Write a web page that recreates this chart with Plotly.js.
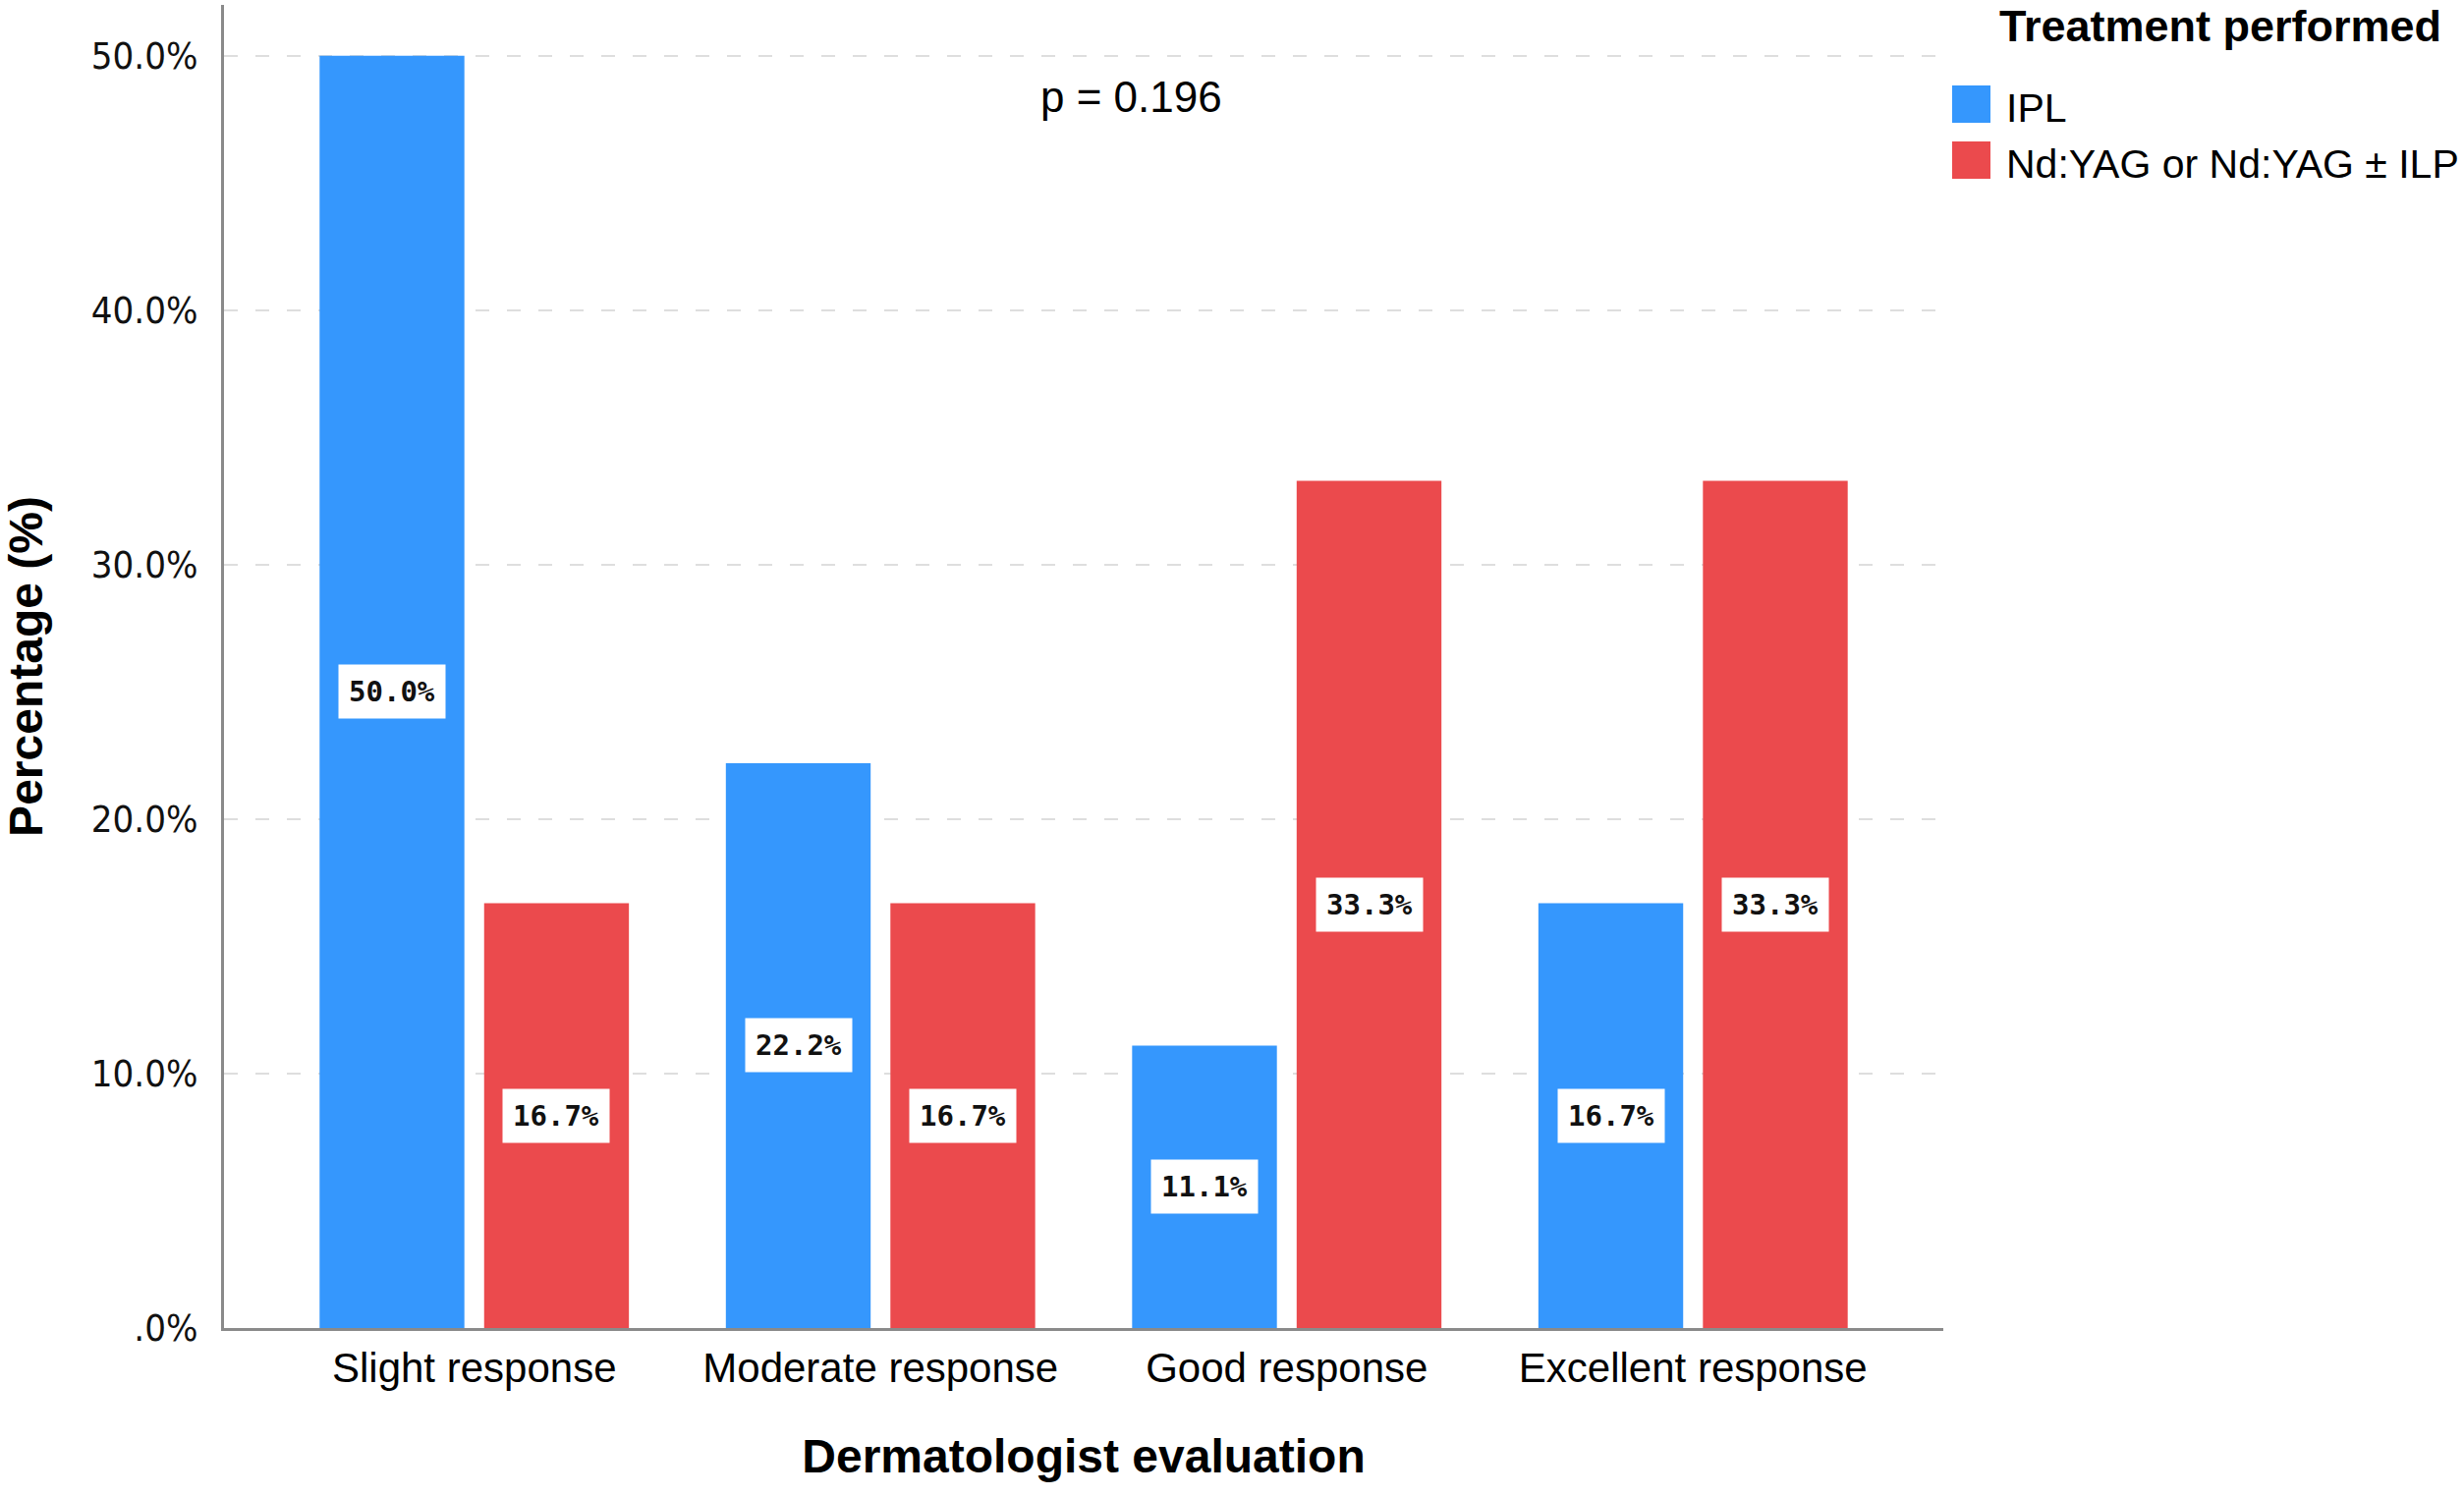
<!DOCTYPE html>
<html>
<head>
<meta charset="utf-8">
<script src="https://cdn.plot.ly/plotly-3.0.1.min.js"></script>
<style>
  body { margin: 0; background: #fff; }
  #chart { width: 2508px; height: 1523px; }
</style>
</head>
<body>
<div id="chart"></div>
<script>
  var categories = ["Slight response", "Moderate response", "Good response", "Excellent response"];
  var seriesNames = ["IPL", "Nd:YAG or Nd:YAG \u00b1 ILP"];
  var iplValues = [50.0, 22.2, 11.1, 16.7];
  var ndyagValues = [16.7, 16.7, 33.3, 33.3];
  var yTickVals = [0, 10, 20, 30, 40, 50];
  var yTickText = [".0%", "10.0%", "20.0%", "30.0%", "40.0%", "50.0%"];
  var colors = ["#3597fd", "#eb4a4d"];

  var W = 2508, H = 1523;
  var margin = { l: 228, r: 530, t: 5, b: 171 };
  var bargap = 0.19;

  // pixel -> paper helpers for legend and notes
  function px(x) { return (x - margin.l) / (W - margin.l - margin.r); }
  function py(y) { return (H - margin.b - y) / (H - margin.t - margin.b); }

  var data = [
    {
      type: "bar",
      name: seriesNames[0],
      x: categories,
      y: iplValues,
      marker: { color: colors[0] },
      hoverinfo: "x+y+name"
    },
    {
      type: "bar",
      name: seriesNames[1],
      x: categories,
      y: ndyagValues,
      marker: { color: colors[1] },
      hoverinfo: "x+y+name"
    }
  ];

  var annotations = [];
  var off = (1 - bargap) / 4;
  [iplValues, ndyagValues].forEach(function (vals, s) {
    vals.forEach(function (v, i) {
      annotations.push({
        x: i + (s === 0 ? -off : off),
        y: v / 2,
        xref: "x", yref: "y",
        text: v.toFixed(1) + "%",
        showarrow: false,
        bgcolor: "#ffffff",
        borderpad: 10,
        font: { family: "DejaVu Sans Mono", size: 29, color: "#111", weight: "bold" }
      });
    });
  });

  // p value
  annotations.push({
    x: px(1151), y: py(98), xref: "paper", yref: "paper",
    xanchor: "center", yanchor: "middle",
    text: "p = 0.196", showarrow: false,
    font: { family: "Liberation Sans, Arial, sans-serif", size: 44, color: "#000" }
  });

  // legend (drawn by hand for the large swatches)
  annotations.push({
    x: px(2033), y: py(27), xref: "paper", yref: "paper",
    xanchor: "left", yanchor: "middle",
    text: "Treatment performed", showarrow: false,
    font: { family: "Liberation Sans, Arial, sans-serif", size: 45, color: "#000", weight: "bold" }
  });
  var shapes = [];
  var legendY = [106, 163];
  seriesNames.forEach(function (n, k) {
    annotations.push({
      x: px(2040), y: py(legendY[k] + 4), xref: "paper", yref: "paper",
      xanchor: "left", yanchor: "middle",
      text: n, showarrow: false,
      font: { family: "Liberation Sans, Arial, sans-serif", size: 41, color: "#000" }
    });
    shapes.push({
      type: "rect", xref: "paper", yref: "paper",
      x0: px(1987), x1: px(2026), y0: py(legendY[k] - 19), y1: py(legendY[k] + 19),
      fillcolor: colors[k], line: { width: 0 }
    });
  });

  var layout = {
    width: W,
    height: H,
    margin: margin,
    paper_bgcolor: "#ffffff",
    plot_bgcolor: "#ffffff",
    barmode: "group",
    bargap: bargap,
    bargroupgap: 0.12,
    showlegend: false,
    font: { family: "Liberation Sans, Arial, sans-serif", color: "#000" },
    xaxis: {
      type: "category",
      range: [-0.616, 3.616],
      showline: true,
      linecolor: "#8a8a8a",
      linewidth: 3,
      showgrid: false,
      ticks: "",
      layer: "below traces",
      ticklabelstandoff: 2,
      tickfont: { family: "Liberation Sans, Arial, sans-serif", size: 42, color: "#000" },
      title: {
        text: "Dermatologist evaluation",
        standoff: 50,
        font: { family: "Liberation Sans, Arial, sans-serif", size: 48, color: "#000", weight: "bold" }
      }
    },
    yaxis: {
      range: [0, 52],
      tickvals: yTickVals,
      ticktext: yTickText,
      showline: true,
      linecolor: "#8a8a8a",
      linewidth: 3,
      showgrid: true,
      gridcolor: "#dedede",
      gridwidth: 2,
      griddash: "14px,18px",
      zeroline: false,
      ticks: "",
      layer: "below traces",
      ticklabelstandoff: 16,
      tickfont: { family: "DejaVu Sans Condensed, DejaVu Sans, sans-serif", size: 38, color: "#111" },
      title: {
        text: "Percentage (%)",
        standoff: 42,
        font: { family: "Liberation Sans, Arial, sans-serif", size: 48, color: "#000", weight: "bold" }
      }
    },
    annotations: annotations,
    shapes: shapes
  };

  Plotly.newPlot("chart", data, layout, { displayModeBar: false, staticPlot: true });
</script>
</body>
</html>
